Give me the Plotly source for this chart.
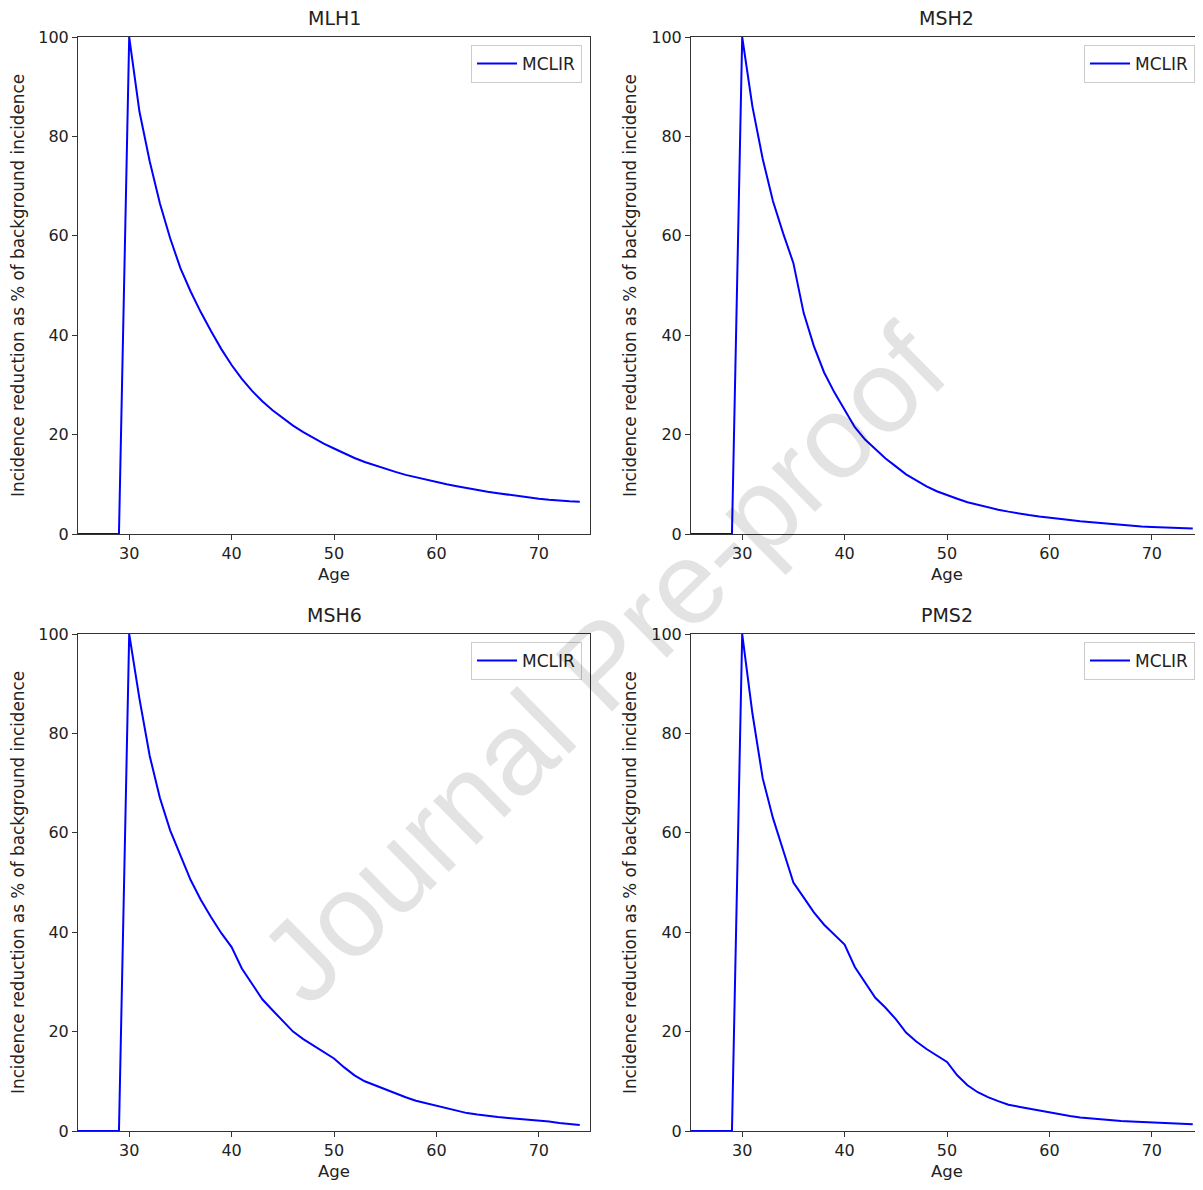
import plotly.graph_objects as go

# ---------------- data ----------------
ages = list(range(25, 75))

mlh1 = [0, 0, 0, 0, 0,
        100, 85, 75, 66.5, 59.5, 53.5, 48.8, 44.6, 40.8, 37.2,
        34.0, 31.2, 28.8, 26.7, 24.9, 23.3, 21.8, 20.5, 19.3, 18.2,
        17.2, 16.2, 15.3, 14.5, 13.8, 13.1, 12.5, 11.9, 11.4, 10.9,
        10.4, 10.0, 9.6, 9.2, 8.9, 8.5, 8.2, 7.9, 7.6, 7.3,
        7.1, 6.9, 6.7, 6.6, 6.5]

msh2 = [0, 0, 0, 0, 0,
        100, 86, 75.5, 67, 60.5, 54.5, 44.5, 37.8, 32.5, 28.5,
        25, 21.5, 19, 17, 15.2, 13.6, 12, 10.8, 9.6, 8.6,
        7.8, 7.1, 6.4, 5.9, 5.3, 4.9, 4.5, 4.1, 3.8, 3.5,
        3.3, 3.0, 2.8, 2.55, 2.35, 2.15, 1.95, 1.8, 1.65, 1.5,
        1.4, 1.3, 1.2, 1.15, 1.1]

msh6 = [0, 0, 0, 0, 0,
        100, 87, 75.5, 67, 60.5, 55.5, 50.5, 46.5, 43, 39.8,
        37, 32.7, 29.5, 26.5, 24.3, 22.2, 20, 18.5, 17.2, 16,
        14.6, 12.8, 11.2, 10, 9.2, 8.4, 7.5, 6.8, 6.1, 5.6,
        5.1, 4.6, 4.1, 3.6, 3.3, 3.0, 2.8, 2.6, 2.45, 2.3,
        2.1, 1.9, 1.6, 1.4, 1.2]

pms2 = [0, 0, 0, 0, 0,
        100, 84, 71, 63, 56.5, 50, 47, 44, 41.5, 39.5,
        37.5, 33, 29.8, 26.8, 24.8, 22.5, 19.8, 18, 16.5, 15.2,
        13.9, 11.2, 9.2, 7.8, 6.8, 6.0, 5.3, 4.9, 4.5, 4.1,
        3.7, 3.3, 3.0, 2.7, 2.5, 2.3, 2.15, 2.0, 1.9, 1.8,
        1.7, 1.6, 1.5, 1.4, 1.35]

genes = ["MLH1", "MSH2", "MSH6", "PMS2"]
series = [mlh1, msh2, msh6, pms2]
series_name = "MCLIR"
x_ticks = [30, 40, 50, 60, 70]
y_ticks = [0, 20, 40, 60, 80, 100]
x_title = "Age"
y_title = "Incidence reduction as % of background incidence"
watermark = "Journal Pre-proof"

# ---------------- layout geometry ----------------
# page body has an 8px margin, so the figure is 8px smaller than the window
OFF = 8
W, H = 1203 - OFF, 1190 - OFF
FONT = "DejaVu Sans"
TXT = "#222"


def px_x(p):
    return (p - OFF) / W


def px_y(p):
    return 1 - (p - OFF) / H


col_dom = [[px_x(78), px_x(590)], [px_x(691), 1.0]]
row_dom = [[px_y(534), px_y(37)], [px_y(1131), px_y(634)]]
leg_right = [px_x(582), px_x(1195)]

fig = go.Figure()
layout = dict(
    width=W, height=H,
    margin=dict(l=0, r=0, t=0, b=0, autoexpand=False),
    paper_bgcolor="white", plot_bgcolor="white",
    font=dict(family=FONT, size=16, color=TXT),
    showlegend=True,
)
annotations = []

for i, (gene, vals) in enumerate(zip(genes, series)):
    r, c = divmod(i, 2)
    idx = "" if i == 0 else str(i + 1)
    leg = "legend" if i == 0 else f"legend{i + 1}"
    fig.add_trace(go.Scatter(
        x=ages, y=vals, mode="lines", name=series_name,
        line=dict(color="#0000ff", width=2),
        xaxis="x" + idx, yaxis="y" + idx, legend=leg,
    ))
    axis_common = dict(
        showline=True, linecolor="#333", linewidth=1, mirror=True,
        ticks="outside", ticklen=5, tickwidth=1, tickcolor="#333",
        showgrid=False, zeroline=False, automargin=False,
        tickfont=dict(family=FONT, size=16, color=TXT),
    )
    layout["xaxis" + idx] = dict(
        axis_common, domain=col_dom[c], range=[25, 75], tickvals=x_ticks,
        anchor="y" + idx,
        title=dict(text=x_title, standoff=6, font=dict(family=FONT, size=16.5, color=TXT)),
    )
    layout["yaxis" + idx] = dict(
        axis_common, domain=row_dom[r], range=[0, 100], tickvals=y_ticks,
        anchor="x" + idx,
        title=dict(text=y_title, standoff=10, font=dict(family=FONT, size=16.8, color=TXT)),
    )
    layout[leg] = dict(
        x=leg_right[c], y=row_dom[r][1] - 8 / H,
        xanchor="right", yanchor="top", itemwidth=40,
        bgcolor="rgba(255,255,255,0.8)", bordercolor="#ccc", borderwidth=1,
        font=dict(family=FONT, size=17, color=TXT),
    )
    annotations.append(dict(
        text=gene, xref="paper", yref="paper",
        x=sum(col_dom[c]) / 2, y=row_dom[r][1] + 19 / H,
        xanchor="center", yanchor="middle", showarrow=False,
        font=dict(family=FONT, size=19, color=TXT),
    ))

annotations.append(dict(
    text=watermark, xref="paper", yref="paper",
    x=px_x(602), y=px_y(664), xanchor="center", yanchor="middle",
    showarrow=False, textangle=-44.5,
    font=dict(family="Liberation Sans", size=117, color="rgba(0,0,0,0.11)"),
))
layout["annotations"] = annotations
fig.update_layout(**layout)
fig.write_html("out.html")
